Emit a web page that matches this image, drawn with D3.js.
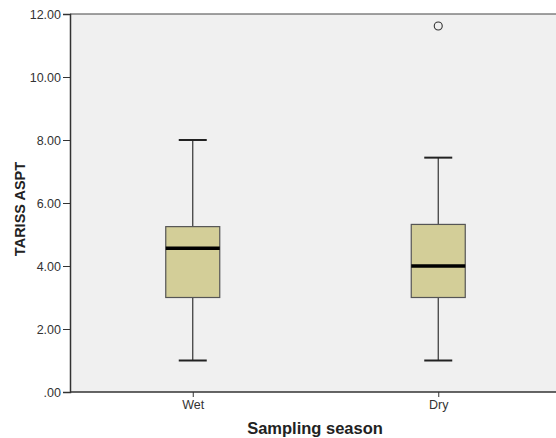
<!DOCTYPE html>
<html>
  <head>
    <meta charset="utf-8">
    <script src="https://cdn.jsdelivr.net/npm/d3@7"></script>
    <style>
      body { margin: 0; background: #fff; }
      text { font-family: Arial, "Liberation Sans", sans-serif; }
    </style>
  </head>
  <body>
    <svg width="556" height="438"></svg>
    <script>

        // Box plot summaries
        var seasons = ["Wet", "Dry"];
        var whiskerLow = [1.0, 1.0];
        var q1 = [3.0, 3.0];
        var median = [4.56, 4.0];
        var q3 = [5.25, 5.32];
        var whiskerHigh = [8.0, 7.44];
        var outliers = [[], [11.62]];
        var yTicks = [0, 2, 4, 6, 8, 10, 12];

        // plot edges (note: "top" is taken by window.top)
        var padLeft = 70, padTop = 14, padBottom = 392, padRight = 556;
        var svg = d3.select("svg");

        var y = d3.scaleLinear().domain([0, 12]).range([padBottom, padTop]);
        var x = d3.scalePoint().domain(seasons).range([padLeft, 561]).padding(0.5);

        // plot background
        svg.append("rect")
          .attr("x", padLeft).attr("y", padTop)
          .attr("width", padRight - padLeft).attr("height", padBottom - padTop)
          .attr("fill", "#f0f0f0");

        // top frame line
        svg.append("line")
          .attr("x1", padLeft).attr("x2", padRight)
          .attr("y1", padTop).attr("y2", padTop)
          .attr("stroke", "#444").attr("stroke-width", 1.2);

        var boxW = 54, capW = 28;

        var data = seasons.map(function(s, i) {
          return {s: s, lo: whiskerLow[i], q1: q1[i], med: median[i], q3: q3[i], hi: whiskerHigh[i], out: outliers[i]};
        });

        var g = svg.selectAll(".box").data(data).enter()
          .append("g").attr("class", "box");

        // whiskers
        g.append("line")
          .attr("x1", function(d) { return x(d.s); })
          .attr("x2", function(d) { return x(d.s); })
          .attr("y1", function(d) { return y(d.lo); })
          .attr("y2", function(d) { return y(d.hi); })
          .attr("stroke", "#333").attr("stroke-width", 1.2);

        g.selectAll(".cap")
          .data(function(d) { return [d.lo, d.hi].map(function(v) { return {s: d.s, v: v}; }); })
          .enter().append("line").attr("class", "cap")
          .attr("x1", function(d) { return x(d.s) - capW / 2; })
          .attr("x2", function(d) { return x(d.s) + capW / 2; })
          .attr("y1", function(d) { return y(d.v); })
          .attr("y2", function(d) { return y(d.v); })
          .attr("stroke", "#222").attr("stroke-width", 2);

        // boxes
        g.append("rect")
          .attr("x", function(d) { return x(d.s) - boxW / 2; })
          .attr("y", function(d) { return y(d.q3); })
          .attr("width", boxW)
          .attr("height", function(d) { return y(d.q1) - y(d.q3); })
          .attr("fill", "#d3ce98")
          .attr("stroke", "#555").attr("stroke-width", 1.2);

        // medians
        g.append("line")
          .attr("x1", function(d) { return x(d.s) - boxW / 2; })
          .attr("x2", function(d) { return x(d.s) + boxW / 2; })
          .attr("y1", function(d) { return y(d.med); })
          .attr("y2", function(d) { return y(d.med); })
          .attr("stroke", "#000").attr("stroke-width", 3.5);

        // outliers
        g.selectAll(".out")
          .data(function(d) { return d.out.map(function(v) { return {s: d.s, v: v}; }); })
          .enter().append("circle").attr("class", "out")
          .attr("cx", function(d) { return x(d.s); })
          .attr("cy", function(d) { return y(d.v); })
          .attr("r", 4)
          .attr("fill", "none")
          .attr("stroke", "#333").attr("stroke-width", 1.1);

        // Y axis
        var yAxis = svg.append("g")
          .attr("transform", "translate(" + padLeft + ",0)")
          .call(d3.axisLeft(y).tickValues(yTicks).tickSize(7).tickPadding(2)
            .tickFormat(function(d) { return d === 0 ? ".00" : d3.format(".2f")(d); }));
        yAxis.select(".domain").attr("stroke", "#333").attr("stroke-width", 1.5);
        yAxis.selectAll("line").attr("stroke", "#333");
        yAxis.selectAll("text").attr("font-size", "12.5px").attr("fill", "#333");

        // X axis
        var xAxis = svg.append("g")
          .attr("transform", "translate(0," + padBottom + ")")
          .call(d3.axisBottom(x).tickSize(5).tickPadding(3).tickSizeOuter(0));
        xAxis.select(".domain").attr("d", "M" + padLeft + ",0H" + padRight)
          .attr("stroke", "#333").attr("stroke-width", 1.5);
        xAxis.selectAll("line").attr("stroke", "#333");
        xAxis.selectAll("text").attr("font-size", "12.5px").attr("fill", "#333");

        // Axis titles
        svg.append("text")
          .text("Sampling season")
          .attr("x", 315).attr("y", 434)
          .attr("text-anchor", "middle")
          .attr("font-size", "16.5px").attr("font-weight", "bold")
          .attr("fill", "#222");

        svg.append("text")
          .text("TARISS ASPT")
          .attr("transform", "translate(25,209) rotate(-90)")
          .attr("text-anchor", "middle")
          .attr("font-size", "14.5px").attr("font-weight", "bold")
          .attr("fill", "#222");

    </script>
  </body>
</html>
